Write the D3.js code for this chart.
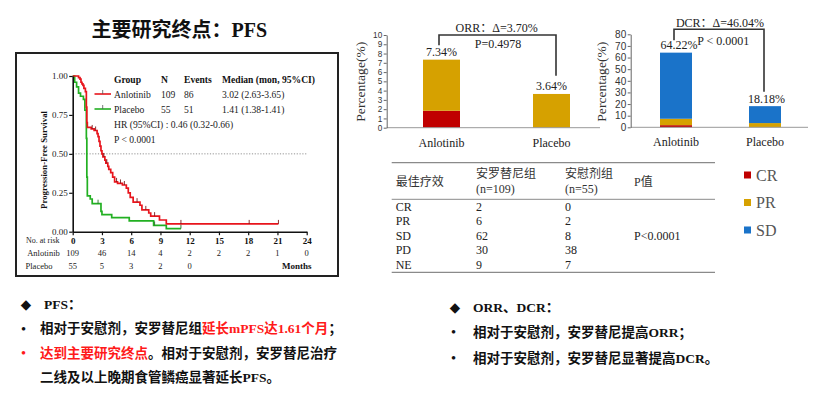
<!DOCTYPE html>
<html><head><meta charset="utf-8">
<script src="https://cdn.jsdelivr.net/npm/d3@7/dist/d3.min.js"></script>
<style>
body{margin:0;background:#fff;}
svg{display:block;}
</style></head>
<body>
<svg id="c" width="813" height="395"></svg>
<script>
// ---------------- DATA ----------------
const kmTicksX = [0,3,6,9,12,15,18,21,24];
const kmTicksY = [0,0.25,0.5,0.75,1];
// Anlotinib KM steps (months, survival)
const anloTime = [0,0.6,0.75,0.85,0.95,1.05,1.15,1.3,1.4,1.45,1.5,1.9,2.2,2.5,2.6,2.7,2.8,2.9,3.0,3.1,3.3,3.4,3.6,3.7,3.9,4.1,4.3,4.6,5.1,5.5,5.7,5.9,6.2,6.9,7.1,7.8,8.0,8.9,9.6,21.1];
const anloSurv = [1.0,0.99,0.98,0.96,0.95,0.94,0.92,0.90,0.80,0.70,0.67,0.66,0.65,0.63,0.61,0.58,0.55,0.52,0.50,0.48,0.46,0.44,0.42,0.40,0.38,0.35,0.32,0.31,0.30,0.28,0.25,0.22,0.19,0.17,0.14,0.12,0.10,0.075,0.05,0.05];
const anloCensor = [2.0,2.35,3.2,3.5,4.5,4.9,5.3,6.6,7.5,8.4,11.1,18.1,21.1];
// Placebo KM steps
const placTime = [0,0.2,0.4,0.6,0.8,1.1,1.25,1.4,1.45,1.5,1.8,2.0,2.9,3.0,4.0,5.8,8.3,9.6,11.1];
const placSurv = [1.0,0.96,0.93,0.89,0.87,0.85,0.78,0.60,0.35,0.23,0.21,0.18,0.13,0.11,0.09,0.07,0.04,0.02,0.02];
const placCensor = [2.6,8.4,11.1];
const riskAnlo = [109,46,14,4,2,2,2,1,0];
const riskPlac = [55,5,3,2,0];
const legendHeader = ["Group","N","Events","Median (mon, 95%CI)"];
const legendAnlo = ["Anlotinib","109","86","3.02 (2.63-3.65)"];
const legendPlac = ["Placebo","55","51","1.41 (1.38-1.41)"];

// Bar charts
const groups = ["Anlotinib","Placebo"];
const respKeys = ["CR","PR","SD"];
const crPct = [1.83, 0];
const prPct = [5.51, 3.64];
const sdPct = [56.88, 14.55];
const orrLabels = ["7.34%","3.64%"];
const dcrLabels = ["64.22%","18.18%"];
const orrTicks = [0,1,2,3,4,5,6,7,8,9,10];
const dcrTicks = [0,10,20,30,40,50,60,70,80];

// Table
const tableHeader1 = ["最佳疗效","安罗替尼组","安慰剂组","P值"];
const tableHeader2 = ["","(n=109)","(n=55)",""];
const tableCats = ["CR","PR","SD","PD","NE"];
const tableAnlo = [2,6,62,30,9];
const tablePlac = [0,2,8,38,7];
const tableP = "P<0.0001";

const colors = {CR:"#c00000", PR:"#d6a100", SD:"#1a73c9"};
const SERIF = "'Liberation Serif','Times New Roman','Noto Sans CJK SC',serif";
const SANS = "'Liberation Sans',Arial,sans-serif";
const CJK = "'Liberation Serif','Noto Sans CJK SC',serif";

const svg = d3.select("#c");
svg.append("rect").attr("width",813).attr("height",395).attr("fill","#fff");

// ---------------- Title ----------------
svg.append("text").attr("x",91.5).attr("y",30).attr("dominant-baseline","central")
  .attr("font-family",CJK).attr("font-weight","bold").attr("font-size",20).attr("fill","#111")
  .text("主要研究终点：PFS");

// ---------------- KM panel ----------------
svg.append("rect").attr("x",16).attr("y",53).attr("width",322).attr("height",223)
  .attr("fill","none").attr("stroke","#222").attr("stroke-width",2);

const kx = d3.scaleLinear().domain([0,24]).range([72.7,306.7]);
const ky = d3.scaleLinear().domain([0,1]).range([231.7,76]);
const km = svg.append("g");

// dotted median line
km.append("line").attr("x1",kx(0)).attr("x2",kx(24)).attr("y1",ky(0.5)).attr("y2",ky(0.5))
  .attr("stroke","#777").attr("stroke-width",0.8).attr("stroke-dasharray","1.2,1.6");

const stepLine = d3.line().x(d=>kx(d[0])).y(d=>ky(d[1])).curve(d3.curveStepAfter);
function drawKM(times, surv, censor, color, tickColor){
  const pts = times.map((t,i)=>[t,surv[i]]);
  km.append("path").attr("d",stepLine(pts)).attr("fill","none").attr("stroke",color).attr("stroke-width",1.7);
  const survAt = t => { let s = surv[0]; for(let i=0;i<times.length;i++){ if(times[i]<=t) s=surv[i]; } return s; };
  km.selectAll(null).data(censor).enter().append("line")
    .attr("x1",d=>kx(d)).attr("x2",d=>kx(d)).attr("y1",d=>ky(survAt(d))).attr("y2",d=>ky(survAt(d))-4)
    .attr("stroke",tickColor).attr("stroke-width",0.9);
}
drawKM(placTime, placSurv, placCensor, "#22b022", "#2b6a2b");
drawKM(anloTime, anloSurv, anloCensor, "#e8141c", "#7a1a1a");

// axes
const yAx = km.append("g").attr("transform",`translate(${kx(0)},0)`)
  .call(d3.axisLeft(ky).tickValues(kmTicksY).tickFormat(d3.format(".2f")).tickSize(3.5).tickSizeOuter(0));
yAx.select(".domain").attr("stroke","#111").attr("stroke-width",1.6);
yAx.selectAll(".tick line").attr("stroke","#111").attr("stroke-width",1.2);
yAx.selectAll(".tick text").attr("font-family",SERIF).attr("font-size",9).attr("fill","#222").attr("x",-5);

const xAx = km.append("g").attr("transform",`translate(0,${ky(0)})`)
  .call(d3.axisBottom(kx).tickValues(kmTicksX).tickFormat(d3.format("d")).tickSize(3.5).tickSizeOuter(0));
xAx.select(".domain").attr("stroke","#111").attr("stroke-width",1.6);
xAx.selectAll(".tick line").attr("stroke","#111").attr("stroke-width",1.2);
xAx.selectAll(".tick text").attr("font-family",SERIF).attr("font-size",9).attr("font-weight","bold").attr("fill","#111").attr("y",6);

km.append("text").attr("transform",`translate(44,160) rotate(-90)`).attr("text-anchor","middle")
  .attr("dominant-baseline","central").attr("font-family",SERIF).attr("font-weight","bold").attr("font-size",8.8).attr("fill","#111")
  .text("Progression-Free Survival");

// risk table
km.append("text").attr("x",26).attr("y",240).attr("dominant-baseline","central").attr("font-family",SERIF).attr("font-size",8).attr("fill","#222").text("No. at risk");
km.append("text").attr("x",43.5).attr("y",253.3).attr("text-anchor","middle").attr("dominant-baseline","central").attr("font-family",SERIF).attr("font-size",8.5).attr("fill","#222").text("Anlotinib");
km.append("text").attr("x",39).attr("y",265.7).attr("text-anchor","middle").attr("dominant-baseline","central").attr("font-family",SERIF).attr("font-size",8.5).attr("fill","#222").text("Placebo");
km.selectAll(null).data(riskAnlo).enter().append("text")
  .attr("x",(d,i)=>kx(kmTicksX[i])).attr("y",253.3).attr("text-anchor","middle").attr("dominant-baseline","central")
  .attr("font-family",SERIF).attr("font-size",8.5).attr("fill","#222").text(d=>d);
km.selectAll(null).data(riskPlac).enter().append("text")
  .attr("x",(d,i)=>kx(kmTicksX[i])).attr("y",265.7).attr("text-anchor","middle").attr("dominant-baseline","central")
  .attr("font-family",SERIF).attr("font-size",8.5).attr("fill","#222").text(d=>d);
km.append("text").attr("x",311.5).attr("y",265.7).attr("text-anchor","end").attr("dominant-baseline","central")
  .attr("font-family",SERIF).attr("font-size",9).attr("font-weight","bold").attr("fill","#111").text("Months");

// legend
const legCols = [114,161,184,222];
km.selectAll(null).data(legendHeader).enter().append("text")
  .attr("x",(d,i)=>legCols[i]).attr("y",79).attr("dominant-baseline","central")
  .attr("font-family",SERIF).attr("font-weight","bold").attr("font-size",9.6).attr("fill","#111").text(d=>d);
[[legendAnlo,94,"#e8141c"],[legendPlac,109,"#22b022"]].forEach(([row,y,col])=>{
  km.append("line").attr("x1",94.5).attr("x2",111).attr("y1",y).attr("y2",y).attr("stroke",col).attr("stroke-width",1.6);
  km.append("line").attr("x1",102.7).attr("x2",102.7).attr("y1",y).attr("y2",y-4).attr("stroke","#555").attr("stroke-width",0.8);
  km.selectAll(null).data(row).enter().append("text")
    .attr("x",(d,i)=>legCols[i]).attr("y",y).attr("dominant-baseline","central")
    .attr("font-family",SERIF).attr("font-size",9.6).attr("fill","#222").text(d=>d);
});
km.append("text").attr("x",114).attr("y",124).attr("dominant-baseline","central").attr("font-family",SERIF).attr("font-size",9.6).attr("fill","#222").text("HR (95%CI) : 0.46 (0.32-0.66)");
km.append("text").attr("x",114).attr("y",139).attr("dominant-baseline","central").attr("font-family",CJK).attr("font-size",9.6).attr("fill","#222").text("P < 0.0001");

// ---------------- Bar charts ----------------
const stackData = groups.map((g,i)=>({group:g, CR:crPct[i], PR:prPct[i], SD:sdPct[i]}));

function barChart(opts){
  const g = svg.append("g");
  const y = d3.scaleLinear().domain(opts.domain).range(opts.yRange);
  const x = d3.scalePoint().domain(groups).range(opts.xCenters);
  const series = d3.stack().keys(opts.keys)(stackData);
  g.selectAll(null).data(series).enter().append("g").attr("fill",d=>colors[d.key])
    .selectAll("rect").data(d=>d).enter().append("rect")
    .attr("x",d=>x(d.data.group)-opts.bw/2).attr("width",opts.bw)
    .attr("y",d=>y(d[1])).attr("height",d=>Math.max(0,y(d[0])-y(d[1])));
  // x axis baseline
  g.append("line").attr("x1",opts.xAxis[0]).attr("x2",opts.xAxis[1]).attr("y1",y(0)).attr("y2",y(0)).attr("stroke","#999").attr("stroke-width",1);
  const ya = g.append("g").attr("transform",`translate(${opts.yAxisX},0)`)
    .call(d3.axisLeft(y).tickValues(opts.ticks).tickSize(3).tickSizeOuter(0));
  ya.select(".domain").attr("stroke","#666").attr("stroke-width",1);
  ya.selectAll(".tick line").attr("stroke","#666");
  ya.selectAll(".tick text").attr("font-family",SANS).attr("font-size",opts.tickFont).attr("fill","#333").attr("x",-4.5);
  g.append("text").attr("transform",`translate(${opts.titleX},81.7) rotate(-90)`).attr("text-anchor","middle")
    .attr("dominant-baseline","central").attr("font-family",SERIF).attr("font-size",12).attr("fill","#333")
    .attr("textLength",80).attr("lengthAdjust","spacingAndGlyphs").text("Percentage(%)");
  g.selectAll(null).data(groups).enter().append("text").attr("x",d=>x(d)).attr("y",opts.catY)
    .attr("text-anchor","middle").attr("dominant-baseline","central").attr("font-family",SERIF).attr("font-size",12).attr("fill","#222").text(d=>d);
  const totals = stackData.map(d=>opts.keys.reduce((s,k)=>s+d[k],0));
  g.selectAll(null).data(opts.labels).enter().append("text")
    .attr("x",(d,i)=>x(groups[i])+opts.labelDx[i]).attr("y",(d,i)=>y(totals[i])-7.5)
    .attr("text-anchor","middle").attr("dominant-baseline","central").attr("font-family",SERIF).attr("font-size",12).attr("fill","#222").text(d=>d);
  // bracket
  const bx0 = x(groups[0]) + opts.bOff[0], bx1 = x(groups[1]) + opts.bOff[1];
  g.append("path").attr("d",`M${bx0},${y(opts.bLeft)}V${y(opts.bTop)}H${bx1}V${y(opts.bRight)}`)
    .attr("fill","none").attr("stroke","#333").attr("stroke-width",1.6);
  g.append("text").attr("x",opts.hdr[0]).attr("y",opts.hdr[1]).attr("text-anchor","middle").attr("dominant-baseline","central")
    .attr("font-family",CJK).attr("font-size",12).attr("fill","#222").text(opts.hdrText);
  g.append("text").attr("x",opts.pTxt[0]).attr("y",opts.pTxt[1]).attr("text-anchor","middle").attr("dominant-baseline","central")
    .attr("font-family",SERIF).attr("font-size",12).attr("fill","#222").text(opts.pText);
}

barChart({domain:[0,10], yRange:[127.7,35], xCenters:[441.5,551.5], bw:37, keys:["CR","PR"], ticks:orrTicks,
  tickFont:8.2, yAxisX:386.7, titleX:361, catY:143, labels:orrLabels, labelDx:[0,0], xAxis:[386.7,600],
  bOff:[-2.5,4.5], bLeft:8.9, bTop:10, bRight:5.6, hdr:[496.7,28.3], hdrText:"ORR：Δ=3.70%", pTxt:[498,44], pText:"P=0.4978"});

barChart({domain:[0,80], yRange:[127.3,34.3], xCenters:[676,765], bw:32, keys:["CR","PR","SD"], ticks:dcrTicks,
  tickFont:10, yAxisX:630.7, titleX:602, catY:141.7, labels:dcrLabels, labelDx:[3,1.5], xAxis:[630.7,808],
  bOff:[-2,-1], bLeft:74.8, bTop:84.3, bRight:30.5, hdr:[720,22.7], hdrText:"DCR：Δ=46.04%", pTxt:[723.3,40.7], pText:"P < 0.0001"});

// ---------------- Table ----------------
const tb = svg.append("g");
const colX = [395.7,476,565,634];
[[162.7,1.3],[199.3,1],[272.3,1.3]].forEach(([y,w])=>{
  tb.append("line").attr("x1",391.7).attr("x2",715).attr("y1",y).attr("y2",y).attr("stroke","#8a8a8a").attr("stroke-width",w);
});
tb.selectAll(null).data(tableHeader1).enter().append("text")
  .attr("x",(d,i)=>colX[i]).attr("y",(d,i)=>tableHeader2[i]?174:181.7).attr("dominant-baseline","central")
  .attr("font-family",CJK).attr("font-size",12).attr("fill","#333").text(d=>d);
tb.selectAll(null).data(tableHeader2.filter(d=>d)).enter().append("text")
  .attr("x",(d,i)=>colX[i+1]).attr("y",189.3).attr("dominant-baseline","central")
  .attr("font-family",SERIF).attr("font-size",12).attr("fill","#333").text(d=>d);
const rowY = d3.scalePoint().domain(tableCats).range([206.7,265]);
tableCats.forEach((c,i)=>{
  [c, tableAnlo[i], tablePlac[i]].forEach((v,j)=>{
    tb.append("text").attr("x",colX[j]).attr("y",rowY(c)).attr("dominant-baseline","central")
      .attr("font-family",SERIF).attr("font-size",12).attr("fill","#222").text(v);
  });
});
tb.append("text").attr("x",colX[3]).attr("y",rowY("SD")).attr("dominant-baseline","central")
  .attr("font-family",SERIF).attr("font-size",12).attr("fill","#222").text(tableP);

// legend
const legY = d3.scalePoint().domain(respKeys).range([175,230]);
respKeys.forEach(k=>{
  svg.append("rect").attr("x",744).attr("y",legY(k)-3.5).attr("width",7).attr("height",7).attr("fill",colors[k]);
  svg.append("text").attr("x",756).attr("y",legY(k)).attr("dominant-baseline","central")
    .attr("font-family",SERIF).attr("font-size",16).attr("fill","#555").text(k);
});

// ---------------- Bottom notes ----------------
const FS = 13.5;
function note(x,y,parts){
  const t = svg.append("text").attr("x",x).attr("y",y).attr("dominant-baseline","central")
    .attr("font-family",CJK).attr("font-weight","bold").attr("font-size",FS);
  parts.forEach(([s,c])=>t.append("tspan").attr("fill",c).text(s));
}
const BLK="#111", RED="#ff1a1a";
function diamond(x,y){
  svg.append("text").attr("x",x).attr("y",y).attr("text-anchor","middle").attr("dominant-baseline","central")
    .attr("font-family","'DejaVu Sans',sans-serif").attr("font-size",13.5).attr("fill",BLK).text("◆");
}
function bullet(x,y,c){
  svg.append("text").attr("x",x).attr("y",y).attr("text-anchor","middle").attr("dominant-baseline","central")
    .attr("font-family",SERIF).attr("font-weight","bold").attr("font-size",13).attr("fill",c).text("•");
}
diamond(26,304);
note(44,304,[["PFS：",BLK]]);
bullet(23.5,328.3,BLK);
note(40,328.3,[["相对于安慰剂，安罗替尼组",BLK],["延长mPFS达1.61个月",RED],["；",BLK]]);
bullet(23.5,352.7,RED);
note(40,352.7,[["达到主要研究终点",RED],["。相对于安慰剂，安罗替尼治疗",BLK]]);
note(40,376.7,[["二线及以上晚期食管鳞癌显著延长PFS。",BLK]]);

diamond(455,306.7);
note(473,306.7,[["ORR、DCR：",BLK]]);
bullet(453.5,331.7,BLK);
note(473,331.7,[["相对于安慰剂，安罗替尼提高ORR；",BLK]]);
bullet(453.5,357.7,BLK);
note(473,357.7,[["相对于安慰剂，安罗替尼显著提高DCR。",BLK]]);
</script>
</body></html>
